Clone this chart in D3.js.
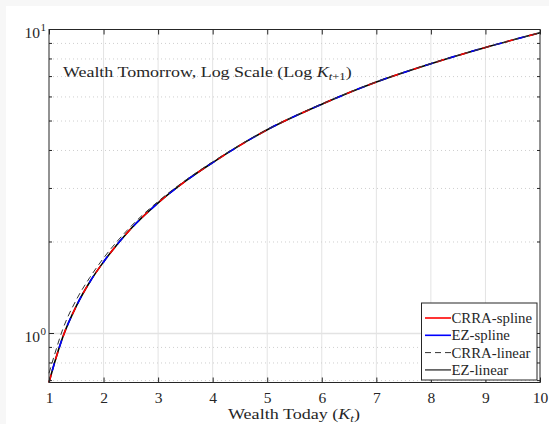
<!DOCTYPE html>
<html>
<head>
<meta charset="utf-8">
<script src="https://cdn.jsdelivr.net/npm/d3@7"></script>
<style>
  html, body { margin: 0; padding: 0; background: #f7f7f7; }
  svg { display: block; }
  text { font-family: "Liberation Serif", "Times New Roman", serif; fill: #262626; }
</style>
</head>
<body>
<svg id="chart" width="549" height="424"></svg>
<script>
// ---- data ----
const wealthToday = [1, 1.1, 1.25, 1.5, 1.75, 2, 2.5, 3, 3.5, 4, 5, 6, 7, 8, 9, 10];
const crraSpline = [0.69, 0.80, 0.97, 1.23, 1.48, 1.72, 2.21, 2.69, 3.17, 3.65, 4.68, 5.68, 6.72, 7.72, 8.73, 9.75];
const ezSpline   = [0.69, 0.80, 0.97, 1.23, 1.48, 1.72, 2.21, 2.69, 3.17, 3.65, 4.68, 5.68, 6.72, 7.72, 8.73, 9.75];
const crraLinear = [0.74, 0.85, 1.03, 1.29, 1.53, 1.77, 2.25, 2.72, 3.19, 3.67, 4.69, 5.69, 6.73, 7.73, 8.73, 9.75];
const ezLinear   = [0.69, 0.80, 0.97, 1.23, 1.48, 1.72, 2.21, 2.69, 3.17, 3.65, 4.68, 5.68, 6.72, 7.72, 8.73, 9.75];
const xTicks = [1, 2, 3, 4, 5, 6, 7, 8, 9, 10];
const yMajorTicks = [1, 10];
const yMinorTicks = [0.7, 0.8, 0.9, 2, 3, 4, 5, 6, 7, 8, 9];
const legendLabels = ["CRRA-spline", "EZ-spline", "CRRA-linear", "EZ-linear"];

// ---- layout ----
const svg = d3.select("#chart");
const L = 49, R = 540, T = 29.5, B = 382.5;
const axisColor = "#262626";

svg.append("rect").attr("x", 6).attr("y", 6).attr("width", 549).attr("height", 424).attr("fill", "#ffffff");

const x = d3.scaleLinear().domain([1, 10]).range([L, R]);
const y = d3.scaleLog().domain([0.69, 10]).range([B, T]);

// fit a text element horizontally to a target width, anchored at its left edge
function fitWidth(sel, x0, target) {
  const w = sel.node().getBBox().width;
  const s = target / w;
  sel.attr("transform", `translate(${x0},0) scale(${s},1) translate(${-x0},0)`);
}

// grid
const grid = svg.append("g");
grid.selectAll("line.xg").data(xTicks.slice(1, -1)).join("line")
  .attr("x1", d => x(d)).attr("x2", d => x(d)).attr("y1", T).attr("y2", B)
  .attr("stroke", "#e3e3e3").attr("stroke-width", 1);
grid.selectAll("line.ym").data(yMinorTicks).join("line")
  .attr("x1", L).attr("x2", R).attr("y1", d => y(d)).attr("y2", d => y(d))
  .attr("stroke", "#cfcfcf").attr("stroke-width", 1).attr("stroke-dasharray", "1,3");
grid.selectAll("line.yM").data(yMajorTicks.filter(d => d < 10)).join("line")
  .attr("x1", L).attr("x2", R).attr("y1", d => y(d)).attr("y2", d => y(d))
  .attr("stroke", "#e3e3e3").attr("stroke-width", 1.5);

// lines
const mk = vals => wealthToday.map((k, i) => [k, vals[i]]);
const line = d3.line().x(d => x(d[0])).y(d => y(d[1])).curve(d3.curveMonotoneX);
const plot = svg.append("g");
plot.append("path").attr("d", line(mk(ezLinear))).attr("fill", "none").attr("stroke", "#000").attr("stroke-width", 1.6);
plot.append("path").attr("d", line(mk(crraSpline))).attr("fill", "none").attr("stroke", "#ff0000").attr("stroke-width", 1.6)
  .attr("stroke-dasharray", "8,16");
plot.append("path").attr("d", line(mk(ezSpline))).attr("fill", "none").attr("stroke", "#0000ff").attr("stroke-width", 1.6)
  .attr("stroke-dasharray", "8,16").attr("stroke-dashoffset", 12);
plot.append("path").attr("d", line(mk(crraLinear))).attr("fill", "none").attr("stroke", "#333").attr("stroke-width", 1)
  .attr("stroke-dasharray", "6,4");

// axes box
const ax = svg.append("g");
ax.append("rect").attr("x", L).attr("y", T).attr("width", R - L).attr("height", B - T)
  .attr("fill", "none").attr("stroke", axisColor).attr("stroke-width", 1);

// x ticks (inward, top & bottom) via d3 axis
const xAxisB = d3.axisBottom(x).tickValues(xTicks).tickSize(-5).tickSizeOuter(0).tickFormat(d3.format("d"));
const gxb = svg.append("g").attr("transform", `translate(0,${B})`).call(xAxisB);
gxb.select(".domain").remove();
gxb.selectAll("line").attr("stroke", axisColor);
gxb.selectAll("text").attr("y", 20).attr("dy", 0).attr("font-size", 15.5).attr("fill", axisColor)
  .style("font-family", "'Liberation Serif', serif");
const xAxisT = d3.axisTop(x).tickValues(xTicks).tickSize(-5).tickSizeOuter(0).tickFormat("");
const gxt = svg.append("g").attr("transform", `translate(0,${T})`).call(xAxisT);
gxt.select(".domain").remove();
gxt.selectAll("line").attr("stroke", axisColor);

// y ticks inward, left & right
function yTicks(side) {
  const x0 = side === "left" ? L : R;
  const dir = side === "left" ? 1 : -1;
  ax.selectAll(null).data(yMajorTicks).join("line")
    .attr("x1", x0).attr("x2", x0 + dir * 5).attr("y1", d => y(d)).attr("y2", d => y(d))
    .attr("stroke", axisColor);
  ax.selectAll(null).data(yMinorTicks).join("line")
    .attr("x1", x0).attr("x2", x0 + dir * 3).attr("y1", d => y(d)).attr("y2", d => y(d))
    .attr("stroke", axisColor);
}
yTicks("left"); yTicks("right");

// y tick labels 10^n
const yl = svg.append("g");
yMajorTicks.forEach(v => {
  yl.append("text").attr("x", 40).attr("y", y(v) + 8.5).attr("text-anchor", "end").attr("font-size", 15.5).text("10");
  yl.append("text").attr("x", 40.5).attr("y", y(v) + 1).attr("font-size", 11)
    .text(String(Math.round(Math.log10(v))));
});

// x label
const xl = svg.append("text").attr("x", 228).attr("y", 419.5).attr("font-size", 15.5);
xl.append("tspan").text("Wealth Today (");
xl.append("tspan").attr("font-style", "italic").text("K");
xl.append("tspan").attr("font-style", "italic").attr("font-size", 11).attr("dy", 2.5).text("t");
xl.append("tspan").attr("dy", -2.5).text(")");
fitWidth(xl, 228, 132);

// in-plot title
const tt = svg.append("text").attr("x", 63).attr("y", 77.5).attr("font-size", 15.5);
tt.append("tspan").text("Wealth Tomorrow, Log Scale (Log ");
tt.append("tspan").attr("font-style", "italic").text("K");
tt.append("tspan").attr("font-style", "italic").attr("font-size", 11).attr("dy", 3).text("t");
tt.append("tspan").attr("font-size", 11).text("+1");
tt.append("tspan").attr("dy", -3).text(")");
fitWidth(tt, 63, 289);

// legend
const lg = svg.append("g");
const lx = 421.5, ly = 303, lw = 115.5, lh = 77;
lg.append("rect").attr("x", lx).attr("y", ly).attr("width", lw).attr("height", lh)
  .attr("fill", "#fff").attr("stroke", axisColor).attr("stroke-width", 1);
const lstyles = [
  { c: "#ff0000", dash: null, w: 1.6 },
  { c: "#0000ff", dash: null, w: 1.6 },
  { c: "#333", dash: "6,4", w: 1 },
  { c: "#555", dash: null, w: 1.6 }
];
legendLabels.forEach((lab, i) => {
  const yy = 318 + i * 17.3;
  const s = lstyles[i];
  lg.append("line").attr("x1", 425).attr("x2", 451).attr("y1", yy).attr("y2", yy)
    .attr("stroke", s.c).attr("stroke-width", s.w).attr("stroke-dasharray", s.dash);
  lg.append("text").attr("x", 451.5).attr("y", yy + 5).attr("font-size", 14.8).text(lab);
});
</script>
</body>
</html>
